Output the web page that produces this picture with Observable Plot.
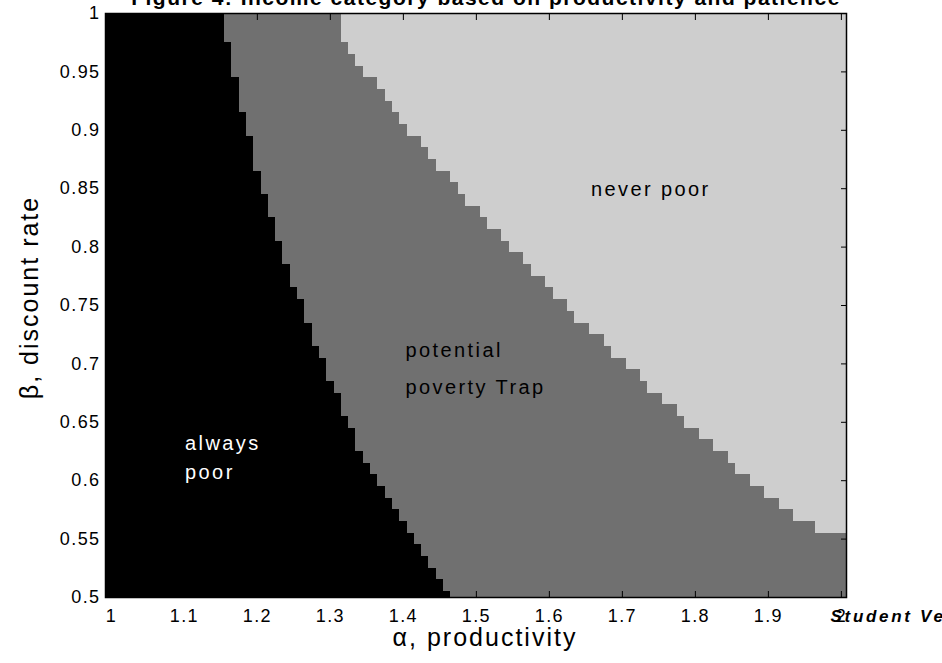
<!DOCTYPE html>
<html>
<head>
<meta charset="utf-8">
<script src="https://cdn.jsdelivr.net/npm/d3@7"></script>
<script src="https://cdn.jsdelivr.net/npm/@observablehq/plot@0.6"></script>
<style>
  body { margin: 0; background: #fff; }
  #wrap { position: relative; width: 942px; height: 663px; overflow: hidden; font-family: "Liberation Sans", Arial, sans-serif; }
  #title { position: absolute; left: 0; width: 942px; top: -14px; text-align: center; font-weight: bold; font-size: 21px; line-height: 24px; letter-spacing: 1.5px; padding-left: 30px; box-sizing: border-box; white-space: nowrap; z-index: 2; }
  #chart { position: absolute; left: 0; top: 0; }
</style>
</head>
<body>
<div id="wrap">
  <div id="chart"></div>
  <div id="title">Figure 4: Income category based on productivity and patience</div>
</div>
<script>
// Grid rows: β from 1.00 down to 0.50 in steps of 0.01
const beta = [1.00,0.99,0.98,0.97,0.96,0.95,0.94,0.93,0.92,0.91,0.90,0.89,0.88,0.87,0.86,0.85,0.84,0.83,0.82,0.81,0.80,
  0.79,0.78,0.77,0.76,0.75,0.74,0.73,0.72,0.71,0.70,0.69,0.68,0.67,0.66,0.65,0.64,0.63,0.62,0.61,0.60,
  0.59,0.58,0.57,0.56,0.55,0.54,0.53,0.52,0.51,0.50];

// α where "always poor" ends in each row (edge between grid columns)
const alwaysPoorEdge = [1.155,1.155,1.155,1.165,1.165,1.165,1.175,1.175,1.175,1.185,1.185,1.195,1.195,1.195,1.205,1.205,1.215,1.215,1.225,1.225,1.235,
  1.235,1.245,1.245,1.255,1.265,1.265,1.275,1.275,1.285,1.295,1.295,1.305,1.315,1.315,1.325,1.335,1.335,1.345,1.355,1.365,
  1.375,1.385,1.395,1.405,1.415,1.425,1.435,1.445,1.455,1.465];

// α where "never poor" begins in each row (2.01 = not reached inside the grid)
const neverPoorEdge = [1.315,1.315,1.315,1.325,1.335,1.345,1.365,1.375,1.385,1.395,1.405,1.425,1.435,1.445,1.465,1.475,1.485,1.505,1.515,1.535,1.545,
  1.565,1.575,1.595,1.605,1.625,1.635,1.655,1.675,1.685,1.705,1.725,1.735,1.755,1.775,1.785,1.805,1.825,1.845,1.855,1.875,
  1.895,1.915,1.935,1.965,2.01,2.01,2.01,2.01,2.01,2.01];

const categories = ["always poor", "potential poverty Trap", "never poor"];
const categoryColors = ["#000000", "#707070", "#cecece"];

const xTicks = [1, 1.1, 1.2, 1.3, 1.4, 1.5, 1.6, 1.7, 1.8, 1.9, 2];
const yTicks = [0.5, 0.55, 0.6, 0.65, 0.7, 0.75, 0.8, 0.85, 0.9, 0.95, 1];

// In-plot region labels (one line each)
const regionLines = ["never poor", "potential", "poverty Trap", "always", "poor"];
const regionLineAlpha = [1.657, 1.403, 1.403, 1.101, 1.101];
const regionLineBeta = [0.849, 0.711, 0.680, 0.632, 0.607];
const regionLineColor = ["#000", "#000", "#000", "#fff", "#fff"];

const xTitle = "α, productivity";
const yTitle = "β, discount rate";
const watermark = "Student Version of MATLAB";

const xDomain = [0.992, 2.007];
const yDomain = [0.5, 1];
const half = 0.005;

// One rectangle per row and category
const cells = [];
beta.forEach((b, i) => {
  const edges = [xDomain[0], alwaysPoorEdge[i], Math.min(neverPoorEdge[i], xDomain[1]), xDomain[1]];
  categories.forEach((c, k) => {
    if (edges[k + 1] > edges[k]) cells.push({cat: c, x1: edges[k], x2: edges[k + 1], y1: b - half, y2: b + half});
  });
});

const labels = regionLines.map((t, i) => ({t, x: regionLineAlpha[i], y: regionLineBeta[i], c: regionLineColor[i]}));

const chart = Plot.plot({
  width: 942,
  height: 663,
  marginLeft: 105,
  marginRight: 96,
  marginTop: 13,
  marginBottom: 66,
  style: {fontFamily: "'Liberation Sans', Arial, sans-serif", background: "#fff", overflow: "hidden"},
  x: {domain: xDomain},
  y: {domain: yDomain},
  color: {domain: categories, range: categoryColors},
  marks: [
    Plot.rect(cells, {x1: "x1", x2: "x2", y1: "y1", y2: "y2", fill: "cat", clip: true, shapeRendering: "crispEdges"}),
    Plot.text(labels, {x: "x", y: "y", text: "t", fill: "c", textAnchor: "start", fontSize: 20}),
    // inward tick marks on all four sides
    Plot.axisX({ticks: xTicks, anchor: "bottom", tickSize: -6, tickFormat: () => "", label: null}),
    Plot.axisX({ticks: xTicks, anchor: "top", tickSize: -6, tickFormat: () => "", label: null}),
    Plot.axisY({ticks: yTicks, anchor: "left", tickSize: -6, tickFormat: () => "", label: null}),
    Plot.axisY({ticks: yTicks, anchor: "right", tickSize: -6, tickFormat: () => "", label: null}),
    // tick labels
    Plot.axisX({ticks: xTicks, anchor: "bottom", tickSize: 0, tickPadding: 12, fontSize: 18, tickFormat: d => String(d), label: null}),
    Plot.axisY({ticks: yTicks, anchor: "left", tickSize: 0, tickPadding: 5, fontSize: 18, tickFormat: d => String(d), label: null}),
    Plot.frame({stroke: "#000", strokeWidth: 1.5}),
    // axis titles
    Plot.text([xTitle], {frameAnchor: "bottom", dx: 9, dy: 48, textAnchor: "middle", fontSize: 25}),
    Plot.text([yTitle], {frameAnchor: "left", dx: -76, dy: -8, rotate: -90, textAnchor: "middle", fontSize: 25}),
    Plot.text([watermark], {frameAnchor: "bottom-right", dx: -16, dy: 24, textAnchor: "start", fontSize: 17, fontWeight: "bold", fontStyle: "italic"})
  ]
});

// Wider glyph spacing, set per kind of text
d3.select(chart).selectAll("text").each(function () {
  const s = this.textContent;
  let ls = null;
  if (regionLines.includes(s)) ls = "2.4px";
  else if (/^[0-9.]+$/.test(s)) ls = "1.4px";
  else if (s === xTitle || s === yTitle) ls = "2px";
  else if (s === watermark) ls = "2.7px";
  if (ls) this.style.letterSpacing = ls;
});

document.getElementById("chart").appendChild(chart);
</script>
</body>
</html>
